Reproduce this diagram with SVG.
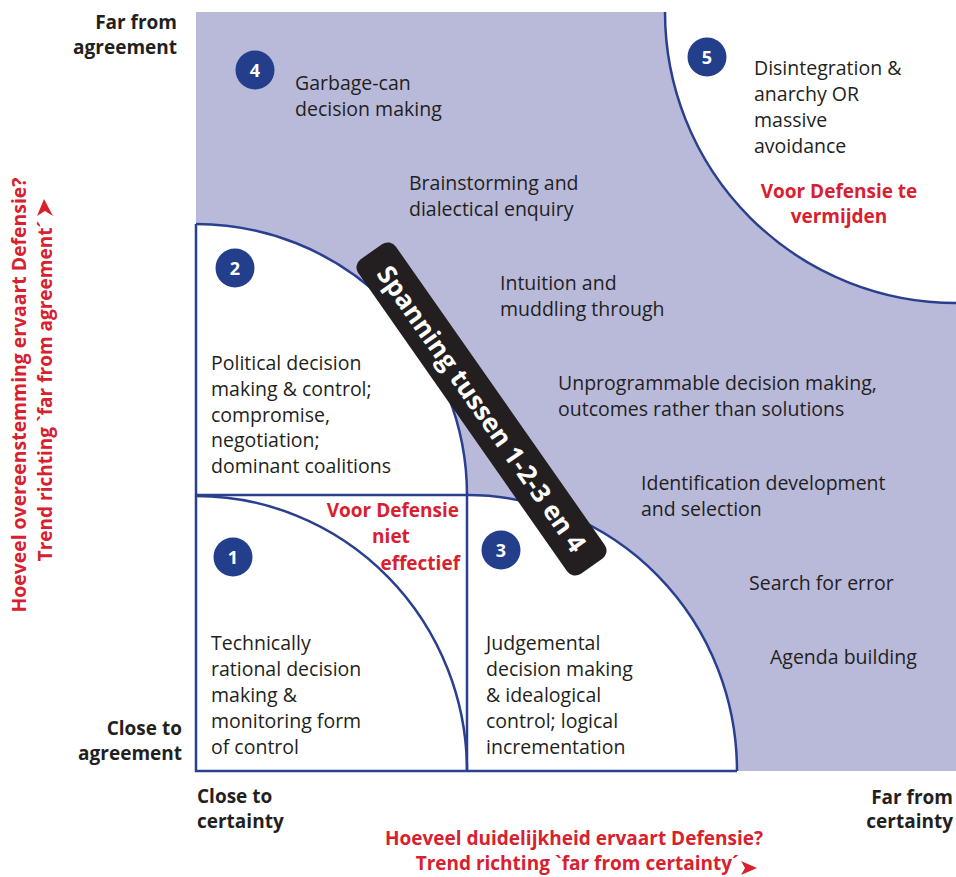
<svg xmlns="http://www.w3.org/2000/svg" width="956" height="877" viewBox="0 0 956 877">
<style>
.t{font-family:"Open Sans","Noto Sans","Liberation Sans",sans-serif;font-size:19.5px;fill:#231f20}
.b{font-family:"Open Sans","Noto Sans","Liberation Sans",sans-serif;font-size:19px;font-weight:bold;fill:#231f20}
.r{font-family:"Open Sans","Noto Sans","Liberation Sans",sans-serif;font-size:19px;font-weight:bold;fill:#d9202e}
.n{font-family:"Open Sans","Noto Sans","Liberation Sans",sans-serif;font-size:18px;font-weight:bold;fill:#fff;text-anchor:middle}
.ln{fill:none;stroke:#2a3f8e;stroke-width:2.5}
.c{fill:#233f8c}
.w{fill:#fff}
</style>
<g id="background">
<rect x="196" y="12" width="760" height="759" fill="#b9b9da"/>
<path class="w" d="M665,12 A291,291 0 0 0 956,303 L956,12 Z"/>
<path class="w" d="M196,495 L196,224 A271,271 0 0 1 467,495 Z"/>
<rect class="w" x="196" y="495" width="271" height="276"/>
<path class="w" d="M467,495 A270,276 0 0 1 737,771 L467,771 Z"/>
</g>
<g id="connectors">
<path class="ln" d="M665,12 A291,291 0 0 0 956,303"/>
<path class="ln" d="M196,224 A271,271 0 0 1 467,495"/>
<path class="ln" d="M196,224 L196,771 L737,771"/>
<path class="ln" d="M196,495 L467,495 L467,771"/>
<path class="ln" d="M196,496 A271,275 0 0 1 467,771"/>
<path class="ln" d="M467,495 A270,276 0 0 1 737,771"/>
</g>
<g id="node4">
<circle class="c" cx="255" cy="70" r="19.5"/>
<text class="n" x="255" y="76.5">4</text>
<text class="t" x="295" y="90">Garbage-can</text>
<text class="t" x="295" y="116">decision making</text>
</g>
<g id="node5">
<circle class="c" cx="707" cy="57" r="19.5"/>
<text class="n" x="707" y="63.5">5</text>
<text class="t" x="754" y="75">Disintegration &amp;</text>
<text class="t" x="754" y="101">anarchy OR</text>
<text class="t" x="754" y="127">massive</text>
<text class="t" x="754" y="153">avoidance</text>
<text class="r" x="839" y="198" text-anchor="middle">Voor Defensie te</text>
<text class="r" x="839" y="223" text-anchor="middle">vermijden</text>
</g>
<g id="node-middle">
<text class="t" x="409" y="190">Brainstorming and</text>
<text class="t" x="409" y="216">dialectical enquiry</text>
<text class="t" x="500" y="290">Intuition and</text>
<text class="t" x="500" y="316">muddling through</text>
<text class="t" x="558" y="390">Unprogrammable decision making,</text>
<text class="t" x="558" y="416">outcomes rather than solutions</text>
<text class="t" x="641" y="490">Identification development</text>
<text class="t" x="641" y="516">and selection</text>
<text class="t" x="749" y="590">Search for error</text>
<text class="t" x="770" y="664">Agenda building</text>
</g>
<g id="node2">
<circle class="c" cx="235" cy="268" r="19.5"/>
<text class="n" x="235" y="274.5">2</text>
<text class="t" x="211" y="370">Political decision</text>
<text class="t" x="211" y="396">making &amp; control;</text>
<text class="t" x="211" y="422">compromise,</text>
<text class="t" x="211" y="447">negotiation;</text>
<text class="t" x="211" y="473">dominant coalitions</text>
</g>
<g id="node1">
<circle class="c" cx="233" cy="557" r="19.5"/>
<text class="n" x="233" y="563.5">1</text>
<text class="t" x="211" y="650">Technically</text>
<text class="t" x="211" y="676">rational decision</text>
<text class="t" x="211" y="702">making &amp;</text>
<text class="t" x="211" y="728">monitoring form</text>
<text class="t" x="211" y="754">of control</text>
<text class="r" x="459" y="517" text-anchor="end">Voor Defensie</text>
<text class="r" x="391" y="543" text-anchor="middle">niet</text>
<text class="r" x="460" y="570" text-anchor="end">effectief</text>
</g>
<g id="node3">
<circle class="c" cx="501" cy="550" r="19.5"/>
<text class="n" x="501" y="556.5">3</text>
<text class="t" x="486" y="650">Judgemental</text>
<text class="t" x="486" y="676">decision making</text>
<text class="t" x="486" y="702">&amp; idealogical</text>
<text class="t" x="486" y="728">control; logical</text>
<text class="t" x="486" y="754">incrementation</text>
</g>
<g id="band" transform="translate(481.5,409) rotate(55)">
<rect x="-192" y="-23" width="384" height="46" rx="10" fill="#231f20"/>
<text x="0" y="9" text-anchor="middle" font-family="Open Sans, Noto Sans, Liberation Sans, sans-serif" font-size="26" font-weight="bold" fill="#fff">Spanning tussen 1-2-3 en 4</text>
</g>
<g id="axis-labels">
<text class="b" x="177" y="29" text-anchor="end">Far from</text>
<text class="b" x="177" y="54" text-anchor="end">agreement</text>
<text class="b" x="182" y="735" text-anchor="end">Close to</text>
<text class="b" x="182" y="760" text-anchor="end">agreement</text>
<text class="b" x="197" y="803">Close to</text>
<text class="b" x="197" y="828">certainty</text>
<text class="b" x="953" y="804" text-anchor="end">Far from</text>
<text class="b" x="953" y="828" text-anchor="end">certainty</text>
</g>
<g id="axis-x">
<text class="r" x="574" y="845" text-anchor="middle">Hoeveel duidelijkheid ervaart Defensie?</text>
<text class="r" x="739" y="870" text-anchor="end">Trend richting `far from certainty´</text>
<path d="M741,861 L757,868 L741,875 L745,868 Z" fill="#d9202e"/>
</g>
<g id="axis-y">
<text class="r" transform="translate(26,395) rotate(-90)" text-anchor="middle" style="font-size:19.4px">Hoeveel overeenstemming ervaart Defensie?</text>
<text class="r" transform="translate(52,391) rotate(-90)" text-anchor="middle">Trend richting `far from agreement´</text>
<path d="M44,199 L53,216 L45,211 L37,216 Z" fill="#d9202e"/>
</g>
</svg>
